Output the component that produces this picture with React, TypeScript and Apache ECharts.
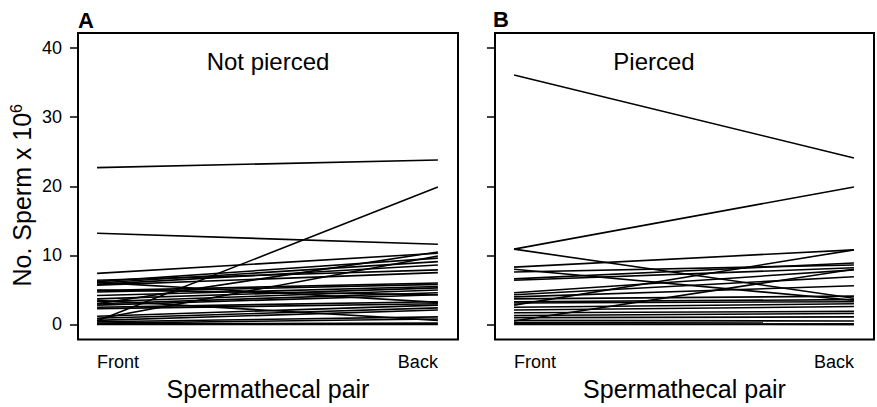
import React, { useEffect, useRef } from "react";
import * as echarts from "echarts";

const X_LABELS = ["Front", "Back"];
const Y_TICKS = [0, 10, 20, 30, 40];

// Panel A: Not pierced (front value, back value)
const A_FRONT = [22.7, 13.2, 0.5, 3.0, 7.4, 6.2, 6.0, 5.8, 0.8, 6.4, 5.7, 4.9, 4.7, 4.2, 3.7, 3.3, 3.0, 2.8, 2.5, 2.3, 1.2, 0.9, 0.6, 0.4, 0.2, 0.1, 0.0, 6.1, 3.5, 5.0];
const A_BACK = [23.8, 11.6, 19.9, 10.5, 10.3, 9.6, 9.1, 8.6, 9.9, 7.9, 7.5, 6.0, 5.8, 5.5, 5.3, 5.0, 4.6, 4.3, 3.3, 3.0, 2.8, 2.4, 2.1, 1.1, 0.8, 0.2, 0.0, 3.2, 0.6, 4.3];

// Panel B: Pierced
const B_FRONT = [36.1, 10.9, 10.9, 8.3, 7.6, 6.6, 6.4, 4.6, 4.3, 4.0, 3.7, 3.3, 3.1, 2.8, 2.1, 1.7, 1.3, 1.0, 0.6, 0.3, 0.1, 0.0, 8.0, 2.5, 0.5];
const B_BACK = [24.1, 19.9, 3.8, 10.8, 8.6, 8.9, 8.2, 7.9, 6.9, 5.6, 4.1, 3.6, 3.3, 10.8, 2.6, 1.9, 1.6, 1.1, 0.5, 0.2, 0.0, 0.0, 3.5, 3.0, 8.0];

const PANEL_TITLES = ["Not pierced", "Pierced"];
const PANEL_LETTERS = ["A", "B"];
const Y_NAME = "No. Sperm x 10";
const Y_NAME_SUP = "6";
const X_NAME = "Spermathecal pair";

const FONT = "'Liberation Sans', Arial, Helvetica, sans-serif";

export default function App() {
  const ref = useRef<HTMLDivElement>(null);
  useEffect(() => {
    if (!ref.current) return;
    const chart = echarts.init(ref.current, undefined, { renderer: "svg" });
    const grids = [
      { left: 78, top: 33, width: 380, height: 306.5 },
      { left: 495, top: 33, width: 379, height: 306.5 },
    ];
    const xMin = -0.056;
    const xMax = 1.059;
    const makeX = (i: number) => ({
      type: "value",
      gridIndex: i,
      min: xMin,
      max: xMax,
      axisLine: { show: false, onZero: false },
      axisTick: { show: false },
      splitLine: { show: false },
      axisLabel: {
        customValues: [0, 1],
        formatter: (v: number) => (v < 0.5 ? X_LABELS[0] : X_LABELS[1]),
        alignMinLabel: "left",
        alignMaxLabel: "right",
        color: "#000",
        fontSize: 18,
        fontFamily: FONT,
        margin: 13,
      },
      name: X_NAME,
      nameLocation: "middle",
      nameGap: 37,
      nameTextStyle: { color: "#000", fontSize: 25, fontFamily: FONT },
    });
    const makeY = (i: number) => ({
      type: "value",
      gridIndex: i,
      min: -2.17,
      max: 42.17,
      axisLine: { show: false, onZero: false },
      splitLine: { show: false },
      axisTick: {
        show: true,
        customValues: Y_TICKS,
        length: 8,
        lineStyle: { color: "#000", width: 1.5 },
      },
      axisLabel: {
        show: i === 0,
        customValues: Y_TICKS,
        color: "#000",
        fontSize: 18,
        fontFamily: FONT,
        margin: 16,
      },
      ...(i === 0
        ? {
            name: `${Y_NAME}{sup|${Y_NAME_SUP}}`,
            nameLocation: "middle",
            nameGap: 42,
            nameTextStyle: {
              color: "#000",
              fontSize: 25,
              fontFamily: FONT,
              padding: [0, 18, 0, 0],
              rich: {
                sup: { fontSize: 16, fontFamily: FONT, color: "#000", padding: [0, 0, 12, 0] },
              },
            },
          }
        : {}),
    });
    const series: any[] = [];
    const addPanel = (front: number[], back: number[], idx: number) => {
      front.forEach((f, k) => {
        series.push({
          type: "line",
          xAxisIndex: idx,
          yAxisIndex: idx,
          data: [
            [0, f],
            [1, back[k]],
          ],
          symbol: "none",
          lineStyle: { color: "#000", width: 1.6 },
          silent: true,
        });
      });
    };
    addPanel(A_FRONT, A_BACK, 0);
    addPanel(B_FRONT, B_BACK, 1);

    chart.setOption({
      animation: false,
      backgroundColor: "#fff",
      grid: grids.map((g) => ({ ...g, show: true, borderColor: "#000", borderWidth: 2, backgroundColor: "transparent" })),
      xAxis: [makeX(0), makeX(1)],
      yAxis: [makeY(0), makeY(1)],
      series,
      graphic: [
        { type: "text", x: 268, y: 61.5, style: { text: PANEL_TITLES[0], font: `24px ${FONT}`, fill: "#000", align: "center", verticalAlign: "middle" } },
        { type: "text", x: 654, y: 61.5, style: { text: PANEL_TITLES[1], font: `24px ${FONT}`, fill: "#000", align: "center", verticalAlign: "middle" } },
        { type: "text", x: 78, y: 20, style: { text: PANEL_LETTERS[0], font: `bold 22px ${FONT}`, fill: "#000", align: "left", verticalAlign: "middle" } },
        { type: "text", x: 493, y: 19, style: { text: PANEL_LETTERS[1], font: `bold 22px ${FONT}`, fill: "#000", align: "left", verticalAlign: "middle" } },
      ],
    });
    return () => chart.dispose();
  }, []);
  return <div ref={ref} style={{ position: "fixed", left: 0, top: 0, width: 877, height: 407, background: "#fff" }} />;
}
